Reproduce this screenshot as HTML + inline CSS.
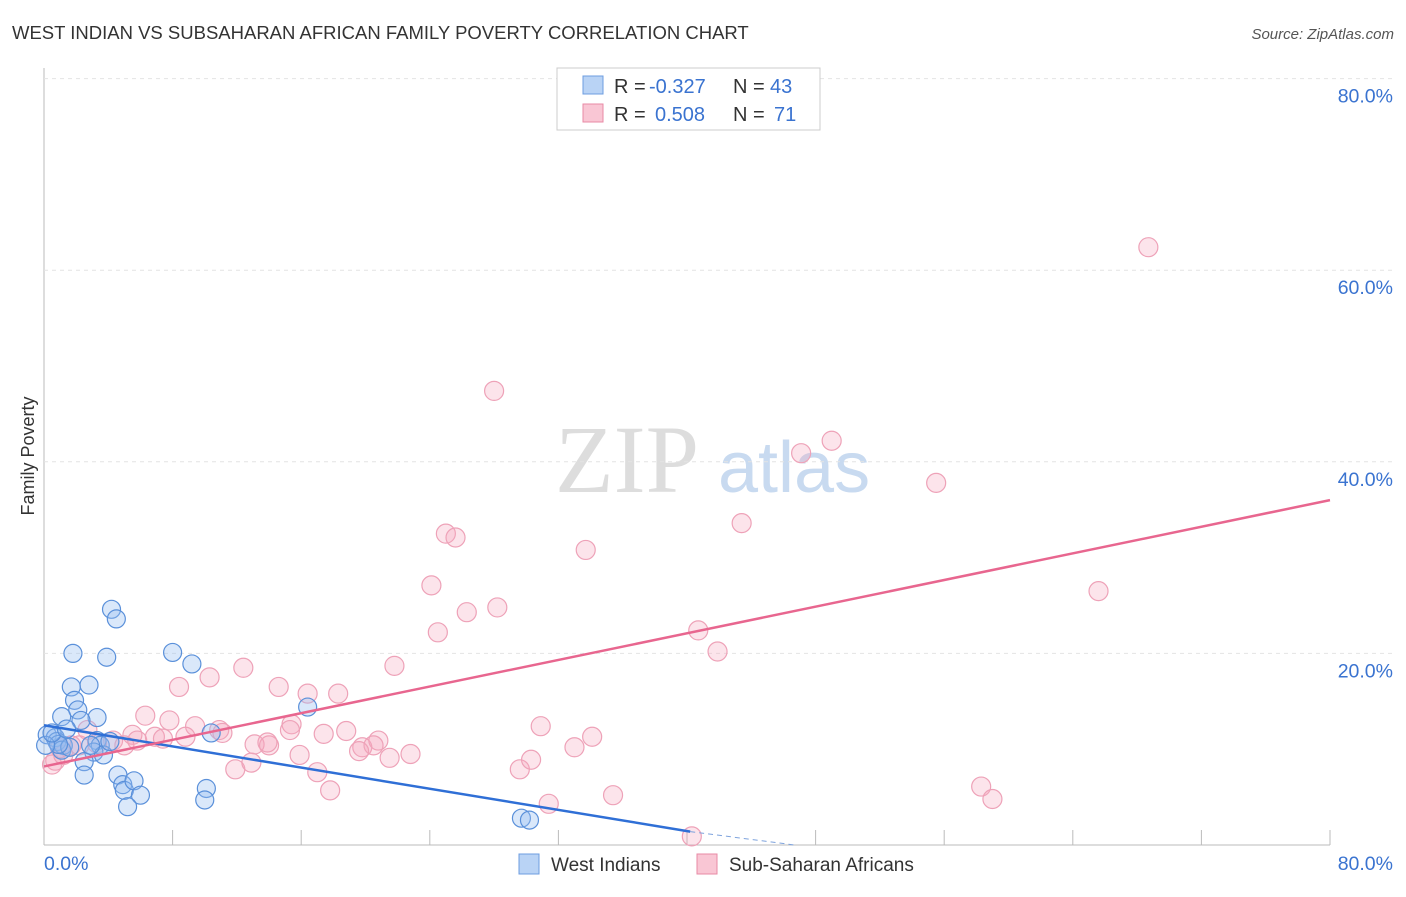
<!DOCTYPE html>
<html><head><meta charset="utf-8"><style>
body{margin:0;background:#fff;font-family:"Liberation Sans",sans-serif}
</style></head><body>
<svg id="c" width="1406" height="892" xmlns="http://www.w3.org/2000/svg">
<text x="12" y="39" font-size="18.5" fill="#333">WEST INDIAN VS SUBSAHARAN AFRICAN FAMILY POVERTY CORRELATION CHART</text>
<text x="1394" y="39" font-size="15" fill="#555" font-style="italic" text-anchor="end">Source: ZipAtlas.com</text>
<text x="34" y="456" font-size="18" fill="#333" transform="rotate(-90 34 456)" text-anchor="middle">Family Poverty</text>
<text x="555" y="492" font-size="96" fill="#ddd" font-family="Liberation Serif,serif">ZIP</text>
<text x="718" y="492" font-size="72" fill="#c8daf0">atlas</text>
<g id="grid"></g><g id="pts"></g><g id="lines"></g>
<g font-size="20">
<rect x="557" y="68" width="263" height="62" fill="#fff" stroke="#ccc"/>
<rect x="583" y="76" width="20" height="18" fill="#b9d3f5" stroke="#6d9de0"/>
<rect x="583" y="104" width="20" height="18" fill="#f9c6d4" stroke="#e88aa5"/>
<text x="614" y="93" fill="#333">R =</text><text x="649" y="93" fill="#3a73d0">-0.327</text>
<text x="733" y="93" fill="#333">N =</text><text x="770" y="93" fill="#3a73d0">43</text>
<text x="614" y="121" fill="#333">R =</text><text x="655" y="121" fill="#3a73d0">0.508</text>
<text x="733" y="121" fill="#333">N =</text><text x="774" y="121" fill="#3a73d0">71</text>
</g>
<g>
<rect x="519" y="854" width="20" height="20" fill="#b9d3f5" stroke="#6d9de0"/>
<text x="551" y="871" font-size="19" fill="#333">West Indians</text>
<rect x="697" y="854" width="20" height="20" fill="#f9c6d4" stroke="#e88aa5"/>
<text x="729" y="871" font-size="19" fill="#333">Sub-Saharan Africans</text>
</g>
</svg>
<script>
const yTicks=[20,40,60,80];
const xLabels=["0.0%","80.0%"];
const westX=[4.2,4.5,1.8,3.9,8.0,9.2,1.7,2.8,1.9,2.1,1.1,3.3,2.3,0.2,0.7,0.8,1.2,1.1,1.6,3.3,3.5,3.1,3.7,2.5,2.5,4.6,4.9,5.0,5.6,6.0,5.2,10.1,10.0,10.4,16.4,29.7,30.2,0.9,0.1,0.5,1.4,2.9,4.1];
const westY=[24.6,23.6,20.0,19.6,20.1,18.9,16.5,16.7,15.1,14.1,13.4,13.3,13.0,11.5,11.2,10.8,10.4,9.9,10.2,10.9,10.4,9.7,9.4,8.7,7.3,7.3,6.3,5.7,6.7,5.2,4.0,5.9,4.7,11.7,14.4,2.8,2.6,10.5,10.4,11.7,12.1,10.4,10.8];
const ssaX=[68.7,28.0,49.0,47.1,55.5,43.4,25.0,25.6,33.7,24.1,26.3,28.2,24.5,40.7,41.9,65.6,12.4,21.8,8.4,10.3,14.6,16.4,18.3,6.3,7.8,9.4,10.9,15.4,17.4,18.8,15.3,13.1,14.0,15.9,13.9,19.8,20.8,20.5,22.8,21.5,19.6,11.9,12.9,17.0,17.8,29.6,30.3,30.9,33.0,34.1,35.4,31.4,40.3,58.3,59.0,4.3,5.5,5.8,5.0,6.9,7.4,8.8,11.1,2.7,3.3,1.7,2.2,1.0,0.7,0.5,1.2];
const ssaY=[62.4,47.4,42.2,40.9,37.8,33.6,32.5,32.1,30.8,27.1,24.3,24.8,22.2,22.4,20.2,26.5,18.5,18.7,16.5,17.5,16.5,15.8,15.8,13.5,13.0,12.4,12.0,12.6,11.6,11.9,12.0,10.5,10.4,9.4,10.7,10.2,10.9,10.4,9.5,9.1,9.8,7.9,8.6,7.6,5.7,7.9,8.9,12.4,10.2,11.3,5.2,4.3,0.9,6.1,4.8,10.9,11.5,10.9,10.4,11.3,11.1,11.3,11.7,12.0,10.6,10.4,10.4,10.1,8.8,8.4,9.4];
const X=v=>44+v*16.075, Y=v=>845-v*9.58;
const NS="http://www.w3.org/2000/svg";
function mk(t,a,p){const e=document.createElementNS(NS,t);for(const k in a)e.setAttribute(k,a[k]);p.appendChild(e);return e;}
const g=document.getElementById('grid');
mk('line',{x1:44,y1:68,x2:44,y2:845,stroke:'#bbb'},g);
mk('line',{x1:44,y1:845,x2:1330,y2:845,stroke:'#bbb'},g);
for(let i=0;i<=10;i++){mk('line',{x1:44+i*128.6,y1:830,x2:44+i*128.6,y2:845,stroke:'#bbb'},g);}
yTicks.forEach(t=>{
const l=mk('line',{x1:44,y1:Y(t),x2:1394,y2:Y(t),stroke:'#e4e4e4','stroke-dasharray':'4,4'},g);


const tx=mk('text',{x:1393,y:Y(t)+24,'font-size':19.5,fill:'#3a73d0','text-anchor':'end'},g);
tx.textContent=t.toFixed(1)+'%';


});
const a=mk('text',{x:44,y:870,'font-size':19.5,fill:'#3a73d0'},g);a.textContent=xLabels[0];


const b=mk('text',{x:1393,y:870,'font-size':19.5,fill:'#3a73d0','text-anchor':'end'},g);b.textContent=xLabels[1];


const p=document.getElementById('pts');
ssaX.forEach((v,i)=>{const c=mk('circle',{cx:X(v),cy:Y(ssaY[i]),r:9.5,fill:'rgba(244,165,190,0.3)',stroke:'#eea2b8','stroke-width':1.2},p);

});
westX.forEach((v,i)=>{const c=mk('circle',{cx:X(v),cy:Y(westY[i]),r:9,fill:'rgba(150,190,240,0.35)',stroke:'#5a90da','stroke-width':1.2},p);

});
const L=document.getElementById('lines');
const l1=mk('line',{x1:X(0),y1:Y(12.5),x2:X(40.2),y2:Y(1.4),stroke:'#2f6fd6','stroke-width':2.5},L);


const l2=mk('line',{x1:X(40.2),y1:Y(1.4),x2:X(46.7),y2:Y(0),stroke:'#7ea3dd','stroke-width':1,'stroke-dasharray':'5,4'},L);


const l3=mk('line',{x1:X(0),y1:Y(8.2),x2:X(80),y2:Y(36.0),stroke:'#e8668f','stroke-width':2.5},L);


</script>
</body></html>
